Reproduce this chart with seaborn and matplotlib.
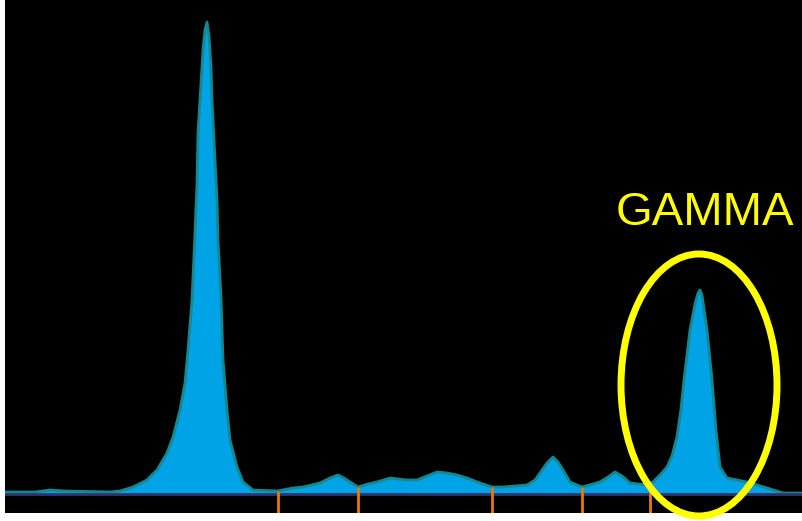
import numpy as np
import pandas as pd
import matplotlib.pyplot as plt
from matplotlib.patches import Ellipse
import seaborn as sns

# ===== 1. Data =====
# position along the gel (px) and height of the trace above the baseline
position = [5, 35, 50, 65, 110, 120, 133, 147, 157, 167, 173, 180, 185, 188, 192,
            195, 197, 198, 200, 203, 205, 207, 209, 211, 212, 215, 217, 218, 221, 223,
            227, 230, 237, 243, 253, 277, 293, 303, 320, 330, 338, 344, 350, 358,
            368, 377, 390, 407, 417, 427, 437, 447, 457, 467, 480, 492, 503, 527,
            535, 540, 547, 553, 558, 563, 570, 582, 600, 608, 615, 622, 630, 647,
            653, 660, 667, 672, 677, 681, 684, 690, 695, 698, 700, 702, 704, 707,
            712, 716, 720, 727, 747, 767, 783, 802]
height = [2, 2, 4, 3, 2, 3, 7, 14, 24, 41, 57, 84, 111, 144, 194,
          261, 311, 361, 394, 444, 464, 472, 458, 427, 394, 334, 294, 254, 196, 134,
          84, 54, 27, 12, 4, 3, 6, 7, 11, 16, 19, 16, 12, 7,
          10, 12, 16, 14, 14, 18, 22, 21, 19, 16, 11, 7, 7, 9,
          14, 21, 31, 37, 32, 24, 12, 7, 12, 17, 22, 18, 11, 9,
          12, 19, 27, 38, 57, 85, 114, 164, 190, 201, 204, 199, 185, 164,
          114, 64, 27, 16, 12, 6, 1, 1]

# fraction boundaries (orange markers)
fraction_bounds = [278, 358, 492, 582, 650]

df = pd.DataFrame({"position": position, "height": height})

# ===== 2. Figure =====
fig = plt.figure(figsize=(8.02, 5.21), dpi=100, facecolor="white")
ax = fig.add_axes([5 / 802, 8 / 521, 797 / 802, 513 / 521])
ax.set_facecolor("black")

ax.fill_between(df["position"], 0, df["height"], color="#00a3e6", lw=0, zorder=2)
sns.lineplot(data=df, x="position", y="height", color="#14888f", lw=2,
             ax=ax, zorder=3)
ax.axhline(0, color="#34346a", lw=2, zorder=4)

# orange fraction markers, from the trace down to the bottom
tops = np.interp(fraction_bounds, position, height)
ax.vlines(fraction_bounds, -19, tops, color="#e87a00", lw=2, zorder=5)

# gamma highlight
ax.add_patch(Ellipse((699, 109), 156, 262, fill=False, edgecolor="#ffff00",
                     lw=5, zorder=6, clip_on=False))
ax.text(705, 281, "GAMMA", color="#ffff00", fontsize=34,
        family=["Liberation Sans", "DejaVu Sans"], ha="center", va="center",
        zorder=7)

ax.set_xlim(5, 802)
ax.set_ylim(-19, 494)
ax.set_xlabel("")
ax.set_ylabel("")
ax.set_xticks([])
ax.set_yticks([])
for s in ax.spines.values():
    s.set_visible(False)

fig.savefig("out.png", dpi=100, facecolor="white")
